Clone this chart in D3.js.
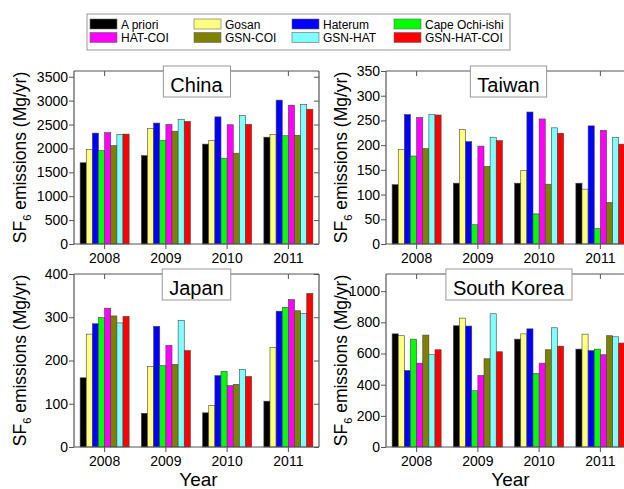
<!DOCTYPE html>
<html>
<head>
<meta charset="utf-8">
<script src="https://cdn.jsdelivr.net/npm/d3@7"></script>
<style>
  body { margin: 0; background: #fff; }
  svg { display: block; font-family: Arial, "Liberation Sans", sans-serif; }
</style>
</head>
<body>
<div class="graph"></div>
<script>
const w = 624;
const h = 489;

const years = ["2008", "2009", "2010", "2011"];
const seriesNames = ["A priori", "Gosan", "Haterum", "Cape Ochi-ishi", "HAT-COI", "GSN-COI", "GSN-HAT", "GSN-HAT-COI"];
const seriesColors = ["#000000", "#ffff80", "#0000ff", "#00ff00", "#ff00ff", "#808000", "#80ffff", "#ff0000"];

// one row per year, values in the order of seriesNames
const china = [
  [1700, 1980, 2320, 1955, 2330, 2060, 2290, 2300],
  [1850, 2415, 2530, 2165, 2500, 2360, 2610, 2565],
  [2090, 2165, 2660, 1795, 2495, 1900, 2690, 2505],
  [2235, 2290, 3010, 2265, 2905, 2275, 2920, 2820]
];
const taiwan = [
  [120, 191, 262, 178, 256, 193, 262, 261],
  [123, 232, 207, 39, 198, 157, 216, 209],
  [123, 149, 267, 61, 253, 121, 235, 224],
  [123, 111, 239, 31, 230, 84, 216, 202]
];
const japan = [
  [160, 261, 285, 299, 321, 303, 287, 302],
  [78, 186, 279, 188, 235, 191, 293, 223],
  [79, 96, 165, 175, 142, 145, 179, 163],
  [106, 230, 314, 323, 341, 315, 309, 355]
];
const southKorea = [
  [726, 714, 491, 692, 538, 718, 592, 624],
  [778, 827, 776, 361, 459, 566, 855, 611],
  [692, 726, 758, 472, 538, 624, 765, 647],
  [628, 724, 618, 628, 592, 714, 707, 667]
];

const panels = [
  {name: "China", data: china, yMax: 3620, yTicks: d3.range(0, 3501, 500), x0: 74, y0: 71, titleX: -48},
  {name: "Taiwan", data: taiwan, yMax: 350, yTicks: d3.range(0, 351, 50), x0: 386, y0: 71, titleX: -39},
  {name: "Japan", data: japan, yMax: 400, yTicks: d3.range(0, 401, 100), x0: 74, y0: 274, titleX: -48, xTitle: true},
  {name: "South Korea", data: southKorea, yMax: 1110, yTicks: d3.range(0, 1001, 200), x0: 386, y0: 274, titleX: -39, xTitle: true}
];
const pw = 245;
const ph = 173;
const frameColor = "#555";
const fontFam = "Arial, 'Liberation Sans', sans-serif";

const canvas = d3.select(".graph")
  .append("svg")
  .attr("width", w)
  .attr("height", h);

panels.forEach(p => {
  const g = canvas.append("g").attr("transform", `translate(${p.x0},${p.y0})`);

  const xScale = d3.scaleBand()
    .domain(years)
    .range([0, pw])
    .paddingInner(0.2)
    .paddingOuter(0.1);
  const xInner = d3.scaleBand()
    .domain(seriesNames)
    .range([0, xScale.bandwidth()]);
  const yScale = d3.scaleLinear()
    .domain([0, p.yMax])
    .range([ph, 0]);

  // bars
  years.forEach((yr, i) => {
    g.append("g")
      .attr("transform", `translate(${xScale(yr)},0)`)
      .selectAll("rect")
      .data(p.data[i])
      .enter().append("rect")
      .attr("x", (d, j) => xInner(seriesNames[j]))
      .attr("width", xInner.bandwidth())
      .attr("y", d => yScale(d))
      .attr("height", d => ph - yScale(d))
      .attr("fill", (d, j) => seriesColors[j])
      .attr("stroke", "#444")
      .attr("stroke-width", 0.6);
  });

  // axes: outward left/bottom, inward top/right
  const left = g.append("g")
    .call(d3.axisLeft(yScale).tickValues(p.yTicks).tickFormat(d3.format("d")).tickSize(5).tickPadding(1));
  const bottom = g.append("g")
    .attr("transform", `translate(0,${ph})`)
    .call(d3.axisBottom(xScale).tickSize(5).tickPadding(4));
  const top = g.append("g")
    .call(d3.axisTop(xScale).tickSize(-5).tickFormat(""));
  const right = g.append("g")
    .attr("transform", `translate(${pw},0)`)
    .call(d3.axisRight(yScale).tickValues(p.yTicks).tickSize(-5).tickFormat(""));

  [left, bottom, top, right].forEach(a => {
    a.attr("font-family", fontFam);
    a.selectAll("path").attr("stroke", frameColor).attr("stroke-width", 1.2);
    a.selectAll("line").attr("stroke", frameColor);
    a.selectAll("text").attr("font-size", 14).attr("fill", "#000");
  });
  top.select("path").attr("d", `M0,0H${pw}`);
  right.select("path").attr("d", `M0,0V${ph}`);
  bottom.select("path").attr("d", `M0,0H${pw}`);
  left.select("path").attr("d", `M0,0V${ph}`);

  // y title
  const yt = g.append("text")
    .attr("transform", `translate(${p.titleX},${ph / 2}) rotate(-90)`)
    .attr("text-anchor", "middle")
    .attr("font-size", 17.5);
  yt.append("tspan").text("SF");
  yt.append("tspan").attr("font-size", 11).attr("dy", 5).text("6");
  yt.append("tspan").attr("dy", -5).text(" emissions (Mg/yr)");

  if (p.xTitle) {
    g.append("text")
      .attr("x", pw / 2 + 2)
      .attr("y", ph + 39)
      .attr("text-anchor", "middle")
      .attr("font-size", 19)
      .text("Year");
  }

  // panel title box
  const title = g.append("g");
  const tt = title.append("text")
    .attr("x", pw / 2)
    .attr("y", 21)
    .attr("text-anchor", "middle")
    .attr("font-size", 20)
    .text(p.name);
  const bb = tt.node().getBBox();
  title.insert("rect", "text")
    .attr("x", bb.x - 7)
    .attr("y", -5)
    .attr("width", bb.width + 14)
    .attr("height", 31)
    .attr("fill", "#fff")
    .attr("stroke", "#999");
});

// legend
const legend = canvas.append("g").attr("transform", "translate(87,14)");
legend.append("rect")
  .attr("width", 423)
  .attr("height", 36)
  .attr("fill", "#fff")
  .attr("stroke", "#999");
const colX = [3, 107, 205, 307];
const items = legend.selectAll("g.item")
  .data(seriesNames)
  .enter().append("g")
  .attr("class", "item")
  .attr("transform", (d, i) => `translate(${colX[i % 4]},${i < 4 ? 5 : 18.5})`);
items.append("rect")
  .attr("width", 27)
  .attr("height", 10)
  .attr("fill", (d, i) => seriesColors[i])
  .attr("stroke", "#666")
  .attr("stroke-width", 0.6);
items.append("text")
  .attr("x", 31)
  .attr("y", 9.5)
  .attr("font-size", 12)
  .text(d => d);
</script>
</body>
</html>
